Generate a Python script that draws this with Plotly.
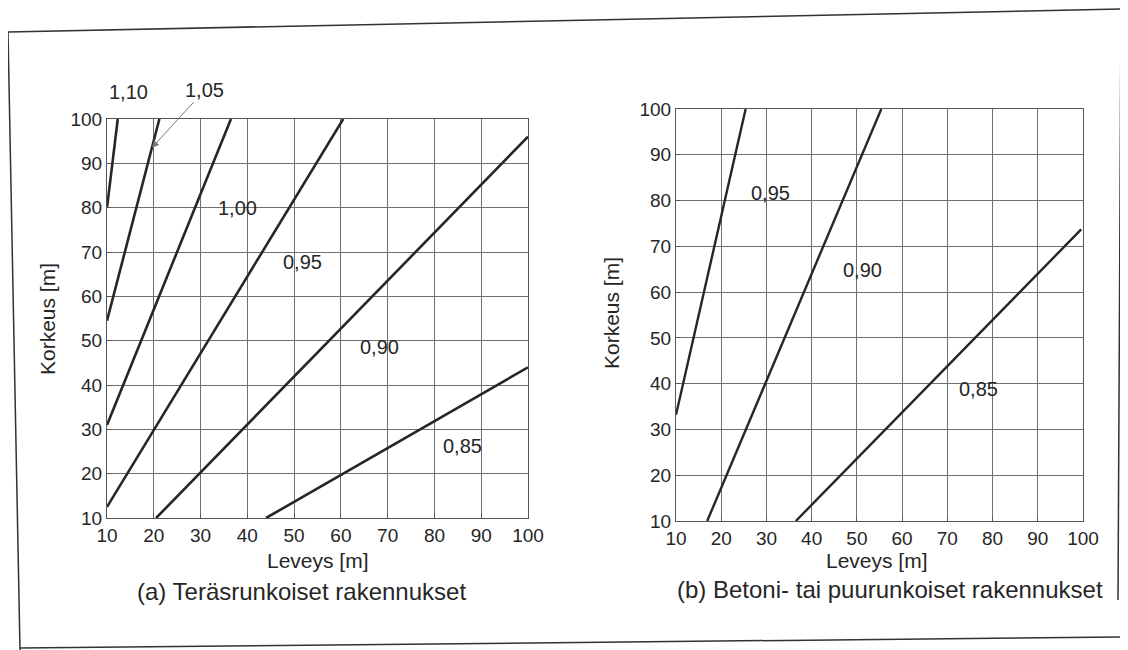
import plotly.graph_objects as go

# ---- data ----
ticks = [10, 20, 30, 40, 50, 60, 70, 80, 90, 100]

# (a) Teräsrunkoiset rakennukset : line endpoints (Leveys, Korkeus)
a_labels = ["1,10", "1,05", "1,00", "0,95", "0,90", "0,85"]
a_x = [[10, 12.3], [10, 21.2], [10, 36.5], [10, 60.5], [20.5, 100], [44, 100]]
a_y = [[80, 100], [54.5, 100], [31, 100], [12.5, 100], [10, 96], [10, 44]]
# label positions (inside the plot, data units)
a_lab_x = [None, None, 37.8, 51.7, 68.3, 86.0]
a_lab_y = [None, None, 79.9, 67.7, 48.5, 26.2]
a_arrow_tip = (19.6, 93.5)

# (b) Betoni- tai puurunkoiset rakennukset
b_labels = ["0,95", "0,90", "0,85"]
b_x = [[10, 25.4], [16.9, 55.4], [36.5, 99.6]]
b_y = [[33.2, 100], [10, 100], [10, 73.7]]
b_lab_x = [30.8, 51.2, 76.9]
b_lab_y = [81.7, 64.9, 38.9]

titles = ["(a) Teräsrunkoiset rakennukset", "(b) Betoni- tai puurunkoiset rakennukset"]
xtitle = "Leveys [m]"
ytitle = "Korkeus [m]"

OFF = 8  # page body margin of the html page
W, H = 1128 - OFF, 650 - OFF
FONT = "Liberation Sans, Arial, sans-serif"
INK = "#262626"

fig = go.Figure()

for xs, ys in zip(a_x, a_y):
    fig.add_trace(go.Scatter(x=xs, y=ys, mode="lines", xaxis="x", yaxis="y",
                             line=dict(color=INK, width=2.6), showlegend=False,
                             hoverinfo="skip"))
for xs, ys in zip(b_x, b_y):
    fig.add_trace(go.Scatter(x=xs, y=ys, mode="lines", xaxis="x2", yaxis="y2",
                             line=dict(color=INK, width=2.4), showlegend=False,
                             hoverinfo="skip"))

def px_x(p):
    return (p - OFF) / W

def px_y(p):
    return 1 - (p - OFF) / H

axis_common = dict(
    range=[10, 100], tickvals=ticks, ticktext=[str(t) for t in ticks],
    showgrid=True, gridcolor="#707070", gridwidth=1,
    showline=True, linecolor="#555", linewidth=1.2, mirror=True,
    ticks="inside", ticklen=4, tickcolor="#555",
    tickfont=dict(family=FONT, size=19, color=INK),
    zeroline=False, fixedrange=True, automargin=False,
)

fig.update_layout(
    width=W, height=H,
    margin=dict(l=0, r=0, t=0, b=0, autoexpand=False),
    paper_bgcolor="white", plot_bgcolor="white",
    font=dict(family=FONT, color=INK),
    xaxis=dict(axis_common, domain=[px_x(107), px_x(528)], anchor="y"),
    yaxis=dict(axis_common, domain=[px_y(518), px_y(119)], anchor="x"),
    xaxis2=dict(axis_common, domain=[px_x(676), px_x(1083)], anchor="y2"),
    yaxis2=dict(axis_common, domain=[px_y(521), px_y(109)], anchor="x2"),
)

LBL = dict(family=FONT, size=20, color=INK)
C = dict(xanchor="center", yanchor="middle", showarrow=False)
ann = []
# curve labels
ann.append(dict(C, x=px_x(128), y=px_y(92), xref="paper", yref="paper",
                text=a_labels[0], font=LBL))
ann.append(dict(x=a_arrow_tip[0], y=a_arrow_tip[1], xref="x", yref="y",
                text=a_labels[1], showarrow=True, ax=53, ay=-58,
                arrowhead=2, arrowsize=1.4, arrowwidth=1, arrowcolor="#777",
                font=LBL))
for lab, x, y in zip(a_labels, a_lab_x, a_lab_y):
    if x is None:
        continue
    ann.append(dict(C, x=x, y=y, xref="x", yref="y", text=lab, font=LBL))
for lab, x, y in zip(b_labels, b_lab_x, b_lab_y):
    ann.append(dict(C, x=x, y=y, xref="x2", yref="y2", text=lab, font=LBL))

# axis titles
TT = dict(family=FONT, size=21, color=INK)
ann.append(dict(C, x=px_x(318), y=px_y(560), xref="paper", yref="paper",
                text=xtitle, font=TT))
ann.append(dict(C, x=px_x(877), y=px_y(560), xref="paper", yref="paper",
                text=xtitle, font=TT))
ann.append(dict(C, x=px_x(47), y=px_y(319), xref="paper", yref="paper",
                text=ytitle, textangle=-90, font=TT))
ann.append(dict(C, x=px_x(611), y=px_y(313), xref="paper", yref="paper",
                text=ytitle, textangle=-90, font=TT))

# subplot captions
CAP = dict(family=FONT, size=24, color=INK)
ann.append(dict(C, x=px_x(301), y=px_y(591), xref="paper", yref="paper",
                text=titles[0], font=CAP))
ann.append(dict(C, x=px_x(890), y=px_y(589), xref="paper", yref="paper",
                text=titles[1], font=CAP))
fig.update_layout(annotations=ann)

# scanned page frame
frame = [
    (8, 32, 1121, 9),     # top
    (8, 32, 20, 650),     # left
    (1121, 9, 1118, 600), # right
    (20, 648, 1128, 637), # bottom
]
shapes = []
for x0, y0, x1, y1 in frame:
    shapes.append(dict(type="line", xref="paper", yref="paper",
                       x0=px_x(x0), y0=px_y(y0), x1=px_x(x1), y1=px_y(y1),
                       line=dict(color="#333", width=1.5)))
fig.update_layout(shapes=shapes)

fig.write_html("out.html")
